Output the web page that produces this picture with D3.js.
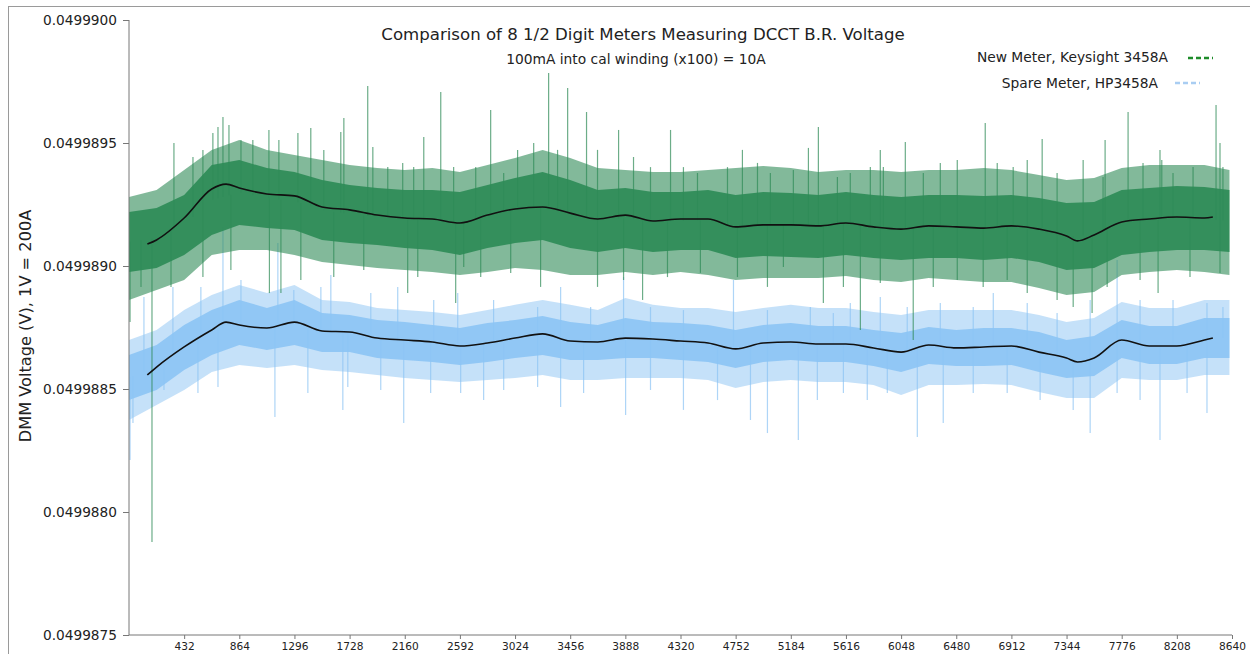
<!DOCTYPE html>
<html>
<head>
<meta charset="utf-8">
<script src="https://cdn.jsdelivr.net/npm/d3@7"></script>
<style>
  body { margin: 0; background: #fff; }
  text { font-family: "DejaVu Sans", sans-serif; fill: #222; }
</style>
</head>
<body>
<svg id="chart" width="1250" height="654"></svg>
<script>
// sample index of each envelope reading
const binSamples = [0, 216, 432, 648, 864, 1080, 1296, 1512, 1728, 1944, 2160, 2376, 2592, 2808, 3024, 3240, 3456, 3672, 3888, 4104,
  4320, 4536, 4752, 4968, 5184, 5400, 5616, 5832, 6048, 6264, 6480, 6696, 6912, 7128, 7344, 7560, 7776, 7992, 8208, 8424, 8620];

// Keysight 3458A: outer (light) and inner (dense) envelope of the trace
const greenOuterHi = [0.049989280, 0.049989309, 0.049989390, 0.049989472, 0.049989512, 0.049989472, 0.049989451, 0.049989431, 0.049989411, 0.049989398,
  0.049989390, 0.049989398, 0.049989382, 0.049989411, 0.049989439, 0.049989472, 0.049989439, 0.049989398, 0.049989390, 0.049989382,
  0.049989382, 0.049989390, 0.049989398, 0.049989407, 0.049989398, 0.049989382, 0.049989390, 0.049989390, 0.049989382, 0.049989390,
  0.049989390, 0.049989398, 0.049989390, 0.049989370, 0.049989350, 0.049989358, 0.049989398, 0.049989411, 0.049989411, 0.049989411, 0.049989390];
const greenInnerHi = [0.049989220, 0.049989236, 0.049989289, 0.049989411, 0.049989431, 0.049989398, 0.049989382, 0.049989350, 0.049989329, 0.049989317,
  0.049989309, 0.049989309, 0.049989301, 0.049989329, 0.049989358, 0.049989382, 0.049989350, 0.049989309, 0.049989317, 0.049989301,
  0.049989301, 0.049989309, 0.049989289, 0.049989301, 0.049989297, 0.049989289, 0.049989301, 0.049989289, 0.049989280, 0.049989289,
  0.049989289, 0.049989285, 0.049989289, 0.049989276, 0.049989256, 0.049989260, 0.049989309, 0.049989317, 0.049989325, 0.049989321, 0.049989309];
const greenInnerLo = [0.049988976, 0.049988992, 0.049989045, 0.049989126, 0.049989167, 0.049989154, 0.049989146, 0.049989106, 0.049989093, 0.049989085,
  0.049989073, 0.049989065, 0.049989045, 0.049989073, 0.049989093, 0.049989106, 0.049989073, 0.049989057, 0.049989073, 0.049989057,
  0.049989065, 0.049989065, 0.049989033, 0.049989041, 0.049989037, 0.049989033, 0.049989045, 0.049989033, 0.049989024, 0.049989033,
  0.049989033, 0.049989024, 0.049989033, 0.049989016, 0.049988984, 0.049988992, 0.049989045, 0.049989057, 0.049989065, 0.049989065, 0.049989057];
const greenOuterLo = [0.049988862, 0.049988902, 0.049988943, 0.049989045, 0.049989065, 0.049989065, 0.049989045, 0.049989016, 0.049989004, 0.049988992,
  0.049988984, 0.049988976, 0.049988963, 0.049988976, 0.049988992, 0.049988984, 0.049988963, 0.049988963, 0.049988976, 0.049988963,
  0.049988976, 0.049988963, 0.049988943, 0.049988951, 0.049988951, 0.049988951, 0.049988959, 0.049988943, 0.049988935, 0.049988951,
  0.049988943, 0.049988935, 0.049988935, 0.049988911, 0.049988882, 0.049988894, 0.049988963, 0.049988976, 0.049988984, 0.049988976, 0.049988963];

// HP3458A
const blueOuterHi = [0.049988699, 0.049988740, 0.049988821, 0.049988882, 0.049988923, 0.049988890, 0.049988923, 0.049988862, 0.049988854, 0.049988829,
  0.049988821, 0.049988813, 0.049988801, 0.049988821, 0.049988842, 0.049988862, 0.049988842, 0.049988821, 0.049988870, 0.049988842,
  0.049988829, 0.049988829, 0.049988813, 0.049988829, 0.049988842, 0.049988829, 0.049988829, 0.049988813, 0.049988801, 0.049988821,
  0.049988821, 0.049988821, 0.049988821, 0.049988801, 0.049988772, 0.049988789, 0.049988854, 0.049988829, 0.049988829, 0.049988862, 0.049988862];
const blueInnerHi = [0.049988638, 0.049988679, 0.049988760, 0.049988821, 0.049988862, 0.049988829, 0.049988862, 0.049988809, 0.049988801, 0.049988780,
  0.049988772, 0.049988760, 0.049988748, 0.049988768, 0.049988780, 0.049988797, 0.049988772, 0.049988760, 0.049988789, 0.049988772,
  0.049988768, 0.049988760, 0.049988740, 0.049988760, 0.049988768, 0.049988756, 0.049988756, 0.049988740, 0.049988728, 0.049988752,
  0.049988740, 0.049988748, 0.049988748, 0.049988732, 0.049988699, 0.049988715, 0.049988780, 0.049988756, 0.049988756, 0.049988789, 0.049988789];
const blueInnerLo = [0.049988455, 0.049988496, 0.049988577, 0.049988638, 0.049988679, 0.049988659, 0.049988679, 0.049988650, 0.049988650, 0.049988626,
  0.049988618, 0.049988610, 0.049988598, 0.049988610, 0.049988626, 0.049988638, 0.049988618, 0.049988618, 0.049988626, 0.049988626,
  0.049988618, 0.049988610, 0.049988585, 0.049988610, 0.049988618, 0.049988610, 0.049988610, 0.049988594, 0.049988569, 0.049988602,
  0.049988594, 0.049988594, 0.049988598, 0.049988569, 0.049988545, 0.049988553, 0.049988626, 0.049988602, 0.049988602, 0.049988626, 0.049988626];
const blueOuterLo = [0.049988374, 0.049988435, 0.049988496, 0.049988569, 0.049988598, 0.049988585, 0.049988598, 0.049988577, 0.049988569, 0.049988557,
  0.049988545, 0.049988537, 0.049988528, 0.049988537, 0.049988545, 0.049988557, 0.049988537, 0.049988537, 0.049988545, 0.049988545,
  0.049988545, 0.049988537, 0.049988504, 0.049988528, 0.049988537, 0.049988528, 0.049988528, 0.049988516, 0.049988476, 0.049988516,
  0.049988516, 0.049988520, 0.049988516, 0.049988488, 0.049988463, 0.049988463, 0.049988545, 0.049988537, 0.049988537, 0.049988557, 0.049988557];

// moving averages (black lines)
const avgSamples = [144, 216, 432, 648, 760, 864, 1080, 1296, 1512, 1728, 1944, 2160, 2376, 2592, 2808, 3024, 3240, 3456, 3672, 3888,
  4104, 4320, 4536, 4752, 4968, 5184, 5400, 5616, 5832, 6048, 6264, 6480, 6696, 6912, 7128, 7344, 7430, 7560, 7776, 7992, 8208, 8424, 8490];
const greenAvg = [0.049989089, 0.049989106, 0.049989195, 0.049989313, 0.049989333, 0.049989317, 0.049989293, 0.049989285, 0.049989240, 0.049989228,
  0.049989207, 0.049989195, 0.049989191, 0.049989175, 0.049989207, 0.049989232, 0.049989240, 0.049989215, 0.049989191, 0.049989207,
  0.049989183, 0.049989191, 0.049989191, 0.049989159, 0.049989167, 0.049989167, 0.049989163, 0.049989175, 0.049989159, 0.049989150,
  0.049989163, 0.049989159, 0.049989154, 0.049989163, 0.049989150, 0.049989122, 0.049989102, 0.049989126, 0.049989179, 0.049989191,
  0.049989199, 0.049989195, 0.049989199];
const blueAvg = [0.049988557, 0.049988589, 0.049988671, 0.049988740, 0.049988772, 0.049988760, 0.049988748, 0.049988772, 0.049988736, 0.049988732,
  0.049988707, 0.049988699, 0.049988691, 0.049988675, 0.049988687, 0.049988707, 0.049988724, 0.049988695, 0.049988691, 0.049988707,
  0.049988703, 0.049988695, 0.049988687, 0.049988663, 0.049988687, 0.049988691, 0.049988683, 0.049988683, 0.049988667, 0.049988650,
  0.049988679, 0.049988667, 0.049988671, 0.049988675, 0.049988650, 0.049988626, 0.049988610, 0.049988626, 0.049988699, 0.049988675,
  0.049988675, 0.049988699, 0.049988707];

// outliers above / below the dense band: [sample, reading]
const greenSpikes = [[8, 0.049988772], [180, 0.049987878], [352, 0.049989500], [579, 0.049988955], [736, 0.049989606], [783, 0.049989573],
  [1096, 0.049989553], [1190, 0.049988890], [1346, 0.049988943], [1424, 0.049989561], [1683, 0.049989602], [1870, 0.049989732],
  [2183, 0.049988890], [2309, 0.049989524], [2442, 0.049989707], [2559, 0.049988850], [2755, 0.049988955], [2833, 0.049989634],
  [3224, 0.049988915], [3287, 0.049989785], [3436, 0.049989724], [3584, 0.049989626], [3670, 0.049988915], [3835, 0.049989553],
  [4023, 0.049988862], [4242, 0.049989553], [4805, 0.049989472], [5322, 0.049989480], [5400, 0.049989565], [5439, 0.049988850],
  [5729, 0.049988740], [5885, 0.049989472], [6081, 0.049989504], [6143, 0.049988699], [6707, 0.049989581], [7153, 0.049989516],
  [7544, 0.049988809], [7646, 0.049989512], [7826, 0.049989626], [8061, 0.049988890], [8076, 0.049989472], [8515, 0.049989654],
  [8546, 0.049989500],
  [501, 0.049989443], [579, 0.049989472], [657, 0.049989541], [697, 0.049989565], [877, 0.049989512], [970, 0.049989512],
  [1174, 0.049989512], [1323, 0.049989541], [1526, 0.049989472], [1659, 0.049989545], [1910, 0.049989484], [2027, 0.049989402],
  [2144, 0.049989419], [2230, 0.049989402], [2543, 0.049989402], [2716, 0.049989402], [2935, 0.049989378], [3044, 0.049989472],
  [3170, 0.049989500], [3357, 0.049989472], [3670, 0.049989472], [3952, 0.049989443], [4085, 0.049989402], [4343, 0.049989402],
  [4453, 0.049989378], [4688, 0.049989402], [4923, 0.049989419], [5024, 0.049989378], [5204, 0.049989390], [5549, 0.049989362],
  [5650, 0.049989378], [5807, 0.049989402], [5909, 0.049989402], [6222, 0.049989378], [6355, 0.049989419], [6488, 0.049989431],
  [6801, 0.049989419], [6926, 0.049989402], [7036, 0.049989431], [7270, 0.049989378], [7474, 0.049989431], [7630, 0.049989362],
  [7943, 0.049989419], [8090, 0.049989431], [8178, 0.049989378], [8335, 0.049989402], [8569, 0.049989402],
  [94, 0.049988915], [329, 0.049988915], [798, 0.049988984], [1100, 0.049988890], [1604, 0.049988955], [1839, 0.049988984],
  [2262, 0.049988955], [2622, 0.049988996], [2990, 0.049988972], [3874, 0.049988943], [4218, 0.049988955], [4476, 0.049988972],
  [4766, 0.049988955], [5001, 0.049988915], [5126, 0.049988996], [5596, 0.049988915], [5885, 0.049988931], [6300, 0.049988915],
  [6488, 0.049988943], [6691, 0.049988915], [6879, 0.049988943], [7036, 0.049988890], [7270, 0.049988862], [7396, 0.049988833],
  [7662, 0.049988915], [7920, 0.049988943], [8311, 0.049988955], [8546, 0.049988972]];
const blueSpikes = [[8, 0.049988211], [117, 0.049988874], [344, 0.049988915], [736, 0.049989159], [1143, 0.049988386], [1166, 0.049989093],
  [1581, 0.049988963], [1675, 0.049988415], [2152, 0.049988362], [3381, 0.049988915], [3874, 0.049988955], [3890, 0.049988394],
  [4343, 0.049988415], [4735, 0.049988943], [4868, 0.049988374], [5001, 0.049988321], [5243, 0.049988293], [5885, 0.049988874],
  [6175, 0.049988305], [6378, 0.049988362], [6770, 0.049988890], [7529, 0.049988321], [7740, 0.049989024], [8076, 0.049988293],
  [8444, 0.049988402],
  [563, 0.049988915], [877, 0.049988943], [1291, 0.049988902], [1503, 0.049988915], [1894, 0.049988890], [2105, 0.049988915],
  [2387, 0.049988862], [2575, 0.049988890], [2856, 0.049988862], [3201, 0.049988833], [3616, 0.049988833], [4085, 0.049988833],
  [4343, 0.049988821], [5001, 0.049988821], [5337, 0.049988833], [5517, 0.049988809], [5650, 0.049988850], [6096, 0.049988833],
  [6355, 0.049988850], [6613, 0.049988833], [7036, 0.049988850], [7270, 0.049988809], [7529, 0.049988862], [7920, 0.049988862],
  [8178, 0.049988862], [8444, 0.049988850], [8569, 0.049988833],
  [31, 0.049988362], [274, 0.049988496], [540, 0.049988484], [697, 0.049988508], [1401, 0.049988484], [1714, 0.049988508],
  [1972, 0.049988496], [2363, 0.049988484], [2598, 0.049988484], [2778, 0.049988455], [2935, 0.049988496], [3201, 0.049988508],
  [3381, 0.049988427], [3561, 0.049988484], [4085, 0.049988496], [4610, 0.049988455], [5392, 0.049988455], [5596, 0.049988484],
  [5783, 0.049988455], [5940, 0.049988484], [6613, 0.049988484], [6879, 0.049988484], [7137, 0.049988455], [7396, 0.049988415],
  [7740, 0.049988484], [7920, 0.049988455], [8288, 0.049988484]];

const yTicks = [0.0499875, 0.0499880, 0.0499885, 0.0499890, 0.0499895, 0.0499900];
const xTicks = [432, 864, 1296, 1728, 2160, 2592, 3024, 3456, 3888, 4320, 4752, 5184, 5616, 6048, 6480, 6912, 7344, 7776, 8208, 8640];

const seriesNames = ["New Meter, Keysight 3458A", "Spare Meter, HP3458A"];

const svg = d3.select("#chart");

// figure frame
svg.append("rect")
  .attr("x", 8.5).attr("y", 6.5)
  .attr("width", 1300).attr("height", 700)
  .attr("fill", "none").attr("stroke", "#9a9a9a");

const x = d3.scaleLinear().domain([0, 8640]).range([129, 1232]);
const y = d3.scaleLinear().domain([0.0499875, 0.0499900]).range([635, 20]);

function band(hi, lo) {
  return binSamples.map((s, i) => ({ s: s, hi: hi[i], lo: lo[i] }));
}

const area = d3.area()
  .x(d => x(d.s))
  .y0(d => y(d.lo))
  .y1(d => y(d.hi));

// middle of the dense band at a given sample, used as spike base
function bandMid(hi, lo, s) {
  const i = Math.min(Math.max(d3.bisectLeft(binSamples, s), 1), binSamples.length - 1);
  const s0 = binSamples[i - 1], s1 = binSamples[i];
  const t = (s - s0) / (s1 - s0);
  const m0 = (hi[i - 1] + lo[i - 1]) / 2, m1 = (hi[i] + lo[i]) / 2;
  return m0 + (m1 - m0) * t;
}

function drawSeries(cfg) {
  const g = svg.append("g");
  g.append("path")
    .datum(band(cfg.outerHi, cfg.outerLo))
    .attr("d", area)
    .attr("fill", cfg.color)
    .attr("opacity", cfg.fringe);
  g.selectAll("line.spike")
    .data(cfg.spikes)
    .enter().append("line")
    .attr("class", "spike")
    .attr("x1", d => x(d[0])).attr("x2", d => x(d[0]))
    .attr("y1", d => y(bandMid(cfg.innerHi, cfg.innerLo, d[0])))
    .attr("y2", d => y(d[1]))
    .attr("stroke", cfg.color)
    .attr("stroke-width", 1.2)
    .attr("opacity", 0.7);
  g.append("path")
    .datum(band(cfg.innerHi, cfg.innerLo))
    .attr("d", area)
    .attr("fill", cfg.color)
    .attr("opacity", 0.92);
}

drawSeries({ color: "#8cc4f4", fringe: 0.5, outerHi: blueOuterHi, innerHi: blueInnerHi, innerLo: blueInnerLo, outerLo: blueOuterLo, spikes: blueSpikes });
drawSeries({ color: "#2e8b57", fringe: 0.6, outerHi: greenOuterHi, innerHi: greenInnerHi, innerLo: greenInnerLo, outerLo: greenOuterLo, spikes: greenSpikes });

const avgLine = d3.line()
  .x(d => x(d[0]))
  .y(d => y(d[1]))
  .curve(d3.curveMonotoneX);

[greenAvg, blueAvg].forEach(vals => {
  svg.append("path")
    .datum(avgSamples.map((s, i) => [s, vals[i]]))
    .attr("d", avgLine)
    .attr("fill", "none")
    .attr("stroke", "#111")
    .attr("stroke-width", 1.6);
});

// axes
const yAxis = svg.append("g")
  .attr("transform", "translate(129,0)")
  .call(d3.axisLeft(y).tickValues(yTicks).tickFormat(d3.format(".7f")).tickSize(6).tickPadding(6));
yAxis.selectAll("text").style("font-size", "13.7px");

const xAxis = svg.append("g")
  .attr("transform", "translate(0,635)")
  .call(d3.axisBottom(x).tickValues(xTicks).tickFormat(d3.format("d")).tickSize(4).tickPadding(3));
xAxis.selectAll("text").style("font-size", "10.6px");

svg.selectAll(".domain, .tick line").attr("stroke", "#777");
yAxis.select(".domain").attr("d", "M0,20V635");
xAxis.select(".domain").attr("d", "M129,0H1232");

svg.append("text")
  .attr("transform", "translate(31,326) rotate(-90)")
  .attr("text-anchor", "middle")
  .style("font-size", "16.2px")
  .text("DMM Voltage (V), 1V = 200A");

svg.append("text")
  .attr("x", 643).attr("y", 40)
  .attr("text-anchor", "middle")
  .style("font-size", "16.6px")
  .text("Comparison of 8 1/2 Digit Meters Measuring DCCT B.R. Voltage");

svg.append("text")
  .attr("x", 636).attr("y", 64)
  .attr("text-anchor", "middle")
  .style("font-size", "13.8px")
  .text("100mA into cal winding (x100) = 10A");

// legend
const legend = [
  { name: seriesNames[0], color: "#1e8c2a", textX: 1168, textY: 62, lineX: 1188, lineY: 58 },
  { name: seriesNames[1], color: "#a9cdf2", textX: 1158, textY: 88, lineX: 1175, lineY: 83 }
];
legend.forEach(l => {
  svg.append("text")
    .attr("x", l.textX).attr("y", l.textY)
    .attr("text-anchor", "end")
    .style("font-size", "13.8px")
    .text(l.name);
  svg.append("line")
    .attr("x1", l.lineX).attr("x2", l.lineX + 25)
    .attr("y1", l.lineY).attr("y2", l.lineY)
    .attr("stroke", l.color)
    .attr("stroke-width", 2.5)
    .attr("stroke-dasharray", "5,3");
});
</script>
</body>
</html>
